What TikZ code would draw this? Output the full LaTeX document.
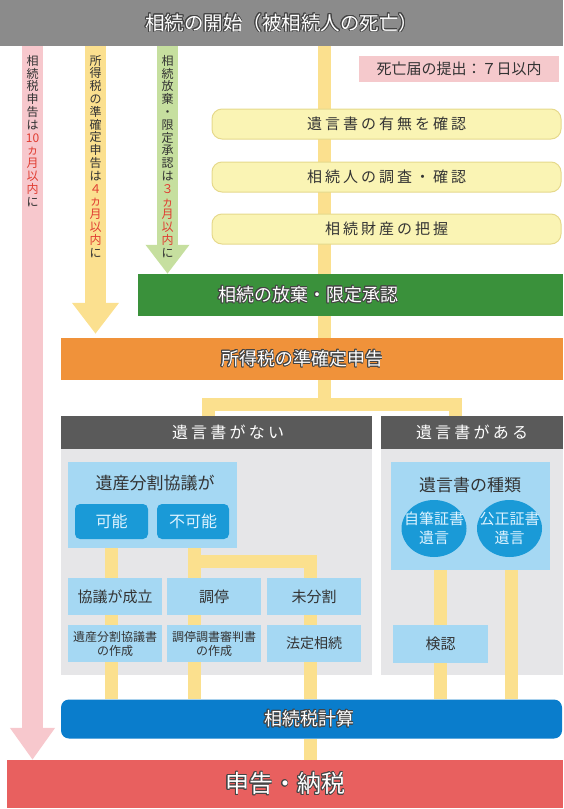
\documentclass[tikz,border=0pt]{standalone}
\usepackage{fontspec}
\setmainfont{Noto Sans CJK JP}
\newfontfamily\jpls[LetterSpace=20]{Noto Sans CJK JP}
\usepackage[copies]{contour}
\contourlength{0.8pt}
\contournumber{16}
\usetikzlibrary{arrows.meta,shapes.geometric,calc}
\definecolor{topgray}{HTML}{8B8B8B}
\definecolor{pinkbox}{HTML}{F5C9CC}
\definecolor{ybox}{HTML}{FAF4B4}
\definecolor{yborder}{HTML}{E6D98C}
\definecolor{connc}{HTML}{FBE08E}
\definecolor{grn}{HTML}{3A913B}
\definecolor{orng}{HTML}{F0923A}
\definecolor{hdr}{HTML}{5A5A5A}
\definecolor{panel}{HTML}{E6E6E8}
\definecolor{lblue}{HTML}{A5D8F3}
\definecolor{btn}{HTML}{1A9AD7}
\definecolor{btntxt}{HTML}{DDF3FF}
\definecolor{bluebarc}{HTML}{0A7DCC}
\definecolor{redbar}{HTML}{E8605F}
\definecolor{pinkarr}{HTML}{F7C8CD}
\definecolor{yelarr}{HTML}{FBE08F}
\definecolor{grnarr}{HTML}{C6DF9F}
\definecolor{redtxt}{HTML}{E03C31}
\definecolor{txt}{HTML}{333333}
\definecolor{outl}{HTML}{444444}
\pgfdeclarelayer{bg}
\pgfdeclarelayer{mid}
\pgfsetlayers{bg,mid,main}
\newcommand\ol[1]{\contour{outl}{#1}}
\newcommand\rd[1]{\textcolor{redtxt}{#1}}
\tikzset{
  plain/.style={rectangle, inner sep=0pt, align=center, text=txt},
  yelbox/.style={plain, fill=ybox, draw=yborder, line width=1pt, rounded corners=10pt,
    minimum width=349pt, minimum height=30pt, font=\jpls\fontsize{15}{18}\selectfont},
  lbbox/.style={plain, fill=lblue, minimum width=94pt, minimum height=37pt,
    font=\fontsize{15}{18}\selectfont},
  lbsmall/.style={lbbox, font=\fontsize{12}{14}\selectfont},
  btnbox/.style={plain, fill=btn, text=btntxt, rounded corners=5pt,
    minimum height=35pt, font=\fontsize{16}{18}\selectfont},
  ellbox/.style={ellipse, inner sep=0pt, fill=btn,
    minimum width=65pt, minimum height=57pt},
  elltxt/.style={inner sep=0pt, align=center, text=btntxt, font=\fontsize{15}{19}\selectfont},
  wtxt/.style={inner sep=0pt, text=white, align=center},
  hdrbox/.style={plain, fill=hdr, minimum height=33pt, text=white,
    font=\jpls\fontsize{16}{18}\selectfont},
  conn/.style={draw=connc, line width=13pt},
  vtext/.style={inner sep=0pt, align=center, anchor=north, text=txt,
    font=\fontsize{12}{12.8}\selectfont},
}
\begin{document}
\begin{tikzpicture}[x=1pt,y=-1pt]
\useasboundingbox (0,0) rectangle (563,809);

% top bar
\node[plain, fill=topgray, minimum width=563pt, minimum height=46pt, text=white,
  font=\fontsize{19.5}{22}\selectfont] (top) at (281.5,23) {\ol{相続の開始（被相続人の死亡）}};

% death notice
\node[plain, fill=pinkbox, minimum width=200pt, minimum height=26pt,
  font=\fontsize{15}{18}\selectfont] (death) at (459,69) {死亡届の提出：７日以内};

% yellow steps
\node[yelbox] (yb1) at (386.5,124) {遺言書の有無を確認};
\node[yelbox] (yb2) at (386.5,177) {相続人の調査・確認};
\node[yelbox] (yb3) at (386.5,229) {相続財産の把握};

% green bar
\node[plain, fill=grn, minimum width=425pt, minimum height=42pt] (green) at (350.5,295) {};
\node[wtxt, font=\fontsize{18}{20}\selectfont] (greenlbl) at (308,295) {\ol{相続の放棄・限定承認}};

% orange bar
\node[plain, fill=orng, minimum width=502pt, minimum height=42pt] (orange) at (312,359) {};
\node[wtxt, font=\fontsize{18}{20}\selectfont] (orangelbl) at (302,359) {\ol{所得税の準確定申告}};

% section headers
\node[hdrbox, minimum width=311pt] (hdrL) at (216.5,432.5) {};
\node[wtxt, font=\jpls\fontsize{16}{18}\selectfont] (hdrLlbl) at (228,432.5) {遺言書がない};
\node[hdrbox, minimum width=182pt] (hdrR) at (472,432.5) {遺言書がある};

\begin{pgfonlayer}{bg}
  \fill[panel] (hdrL.south west) rectangle (372,675);
  \fill[panel] (hdrR.south west) rectangle (563,675);
\end{pgfonlayer}

% division agreement box
\node[plain, fill=lblue, minimum width=169pt, minimum height=86pt] (bunk) at (152.5,505) {};
\node[plain, font=\fontsize{17}{20}\selectfont] (bunklbl) at (155,483) {遺産分割協議が};
\node[btnbox, minimum width=73pt] (kano) at (111.5,521.5) {可能};
\node[btnbox, minimum width=72pt] (fukano) at (193,521.5) {不可能};

% row 1
\node[lbbox] (r1a) at (115,596.5) {協議が成立};
\node[lbbox] (r1b) at (214,596.5) {調停};
\node[lbbox] (r1c) at (314,596.5) {未分割};
% row 2
\node[lbsmall] (r2a) at (115,643.5) {遺産分割協議書\\の作成};
\node[lbsmall] (r2b) at (214,643.5) {調停調書審判書\\の作成};
\node[lbbox, font=\fontsize{14}{17}\selectfont] (r2c) at (314,643.5) {法定相続};

% will types
\node[plain, fill=lblue, minimum width=159pt, minimum height=108pt] (shurui) at (470.5,516) {};
\node[plain, font=\fontsize{17}{20}\selectfont] (shuruilbl) at (470,485) {遺言書の種類};
\node[ellbox] (el1) at (434,528.5) {};
\node[elltxt] (el1lbl) at (434,528.5) {自筆証書\\遺言};
\node[ellbox] (el2) at (509.5,528.5) {};
\node[elltxt] (el2lbl) at (509.5,528.5) {公正証書\\遺言};
\node[lbbox, minimum width=95pt, minimum height=38pt] (kennin) at (440.5,644) {検認};

% tax calculation
\node[plain, fill=bluebarc, rounded corners=8pt, minimum width=501pt, minimum height=39pt] (bluebar) at (311.5,719) {};
\node[wtxt, font=\fontsize{18}{20}\selectfont] (bluelbl) at (309,719) {\ol{相続税計算}};

% filing
\node[plain, fill=redbar, minimum width=556pt, minimum height=48pt, text=white,
  font=\fontsize{24}{26}\selectfont] (red) at (285,784) {\ol{申告・納税}};

% connectors
\coordinate (cx) at (324,0);
\coordinate (jl) at (208,404);
\coordinate (jr) at (455,404);
\coordinate (cA) at (111,0);
\coordinate (cB) at (194,0);
\coordinate (cC) at (310,0);
\coordinate (hj) at (194,561);
\coordinate (cD) at (440,0);
\coordinate (cE) at (511,0);
\coordinate (pA) at (32.5,0);
\coordinate (pB) at (95.5,0);
\coordinate (pC) at (167.5,0);
\begin{pgfonlayer}{mid}
  \draw[conn] (top.south -| cx) -- (orange.north -| cx);
  \draw[conn] (orange.south -| cx) -- (jl -| cx);
  \draw[conn] (hdrL.north -| jl) -- (jl) -- (jr) -- (hdrR.north -| jr);
  \draw[conn] (kano.south -| cA) -- (bluebar.north -| cA);
  \draw[conn] (fukano.south -| cB) -- (bluebar.north -| cB);
  \draw[conn] (hj) -- (hj -| cC) -- (bluebar.north -| cC);
  \draw[conn] (bluebar.south -| cC) -- (red.north -| cC);
  \draw[conn] (shurui.south -| cD) -- (bluebar.north -| cD);
  \draw[conn] (shurui.south -| cE) -- (bluebar.north -| cE);
  % deadline arrows
  \draw[draw=pinkarr, line width=21pt, -{Triangle[width=43pt,length=32pt]}]
    (top.south -| pA) -- (red.north -| pA);
  \draw[draw=yelarr, line width=21pt, -{Triangle[width=45pt,length=31pt]}, shorten >=4pt]
    (top.south -| pB) -- (orange.north -| pB);
  \draw[draw=grnarr, line width=21pt, -{Triangle[width=42pt,length=29pt]}]
    (top.south -| pC) -- (green.north -| pC);
\end{pgfonlayer}

% vertical texts
\node[vtext] (vt1) at (32.5,55) {相\\続\\税\\申\\告\\は\\\rd{10}\\\rd{ヵ}\\\rd{月}\\\rd{以}\\\rd{内}\\に};
\node[vtext] (vt2) at (95.5,55) {所\\得\\税\\の\\準\\確\\定\\申\\告\\は\\\rd{４}\\\rd{ヵ}\\\rd{月}\\\rd{以}\\\rd{内}\\に};
\node[vtext] (vt3) at (167.5,55) {相\\続\\放\\棄\\・\\限\\定\\承\\認\\は\\\rd{３}\\\rd{ヵ}\\\rd{月}\\\rd{以}\\\rd{内}\\に};
\end{tikzpicture}
\end{document}
